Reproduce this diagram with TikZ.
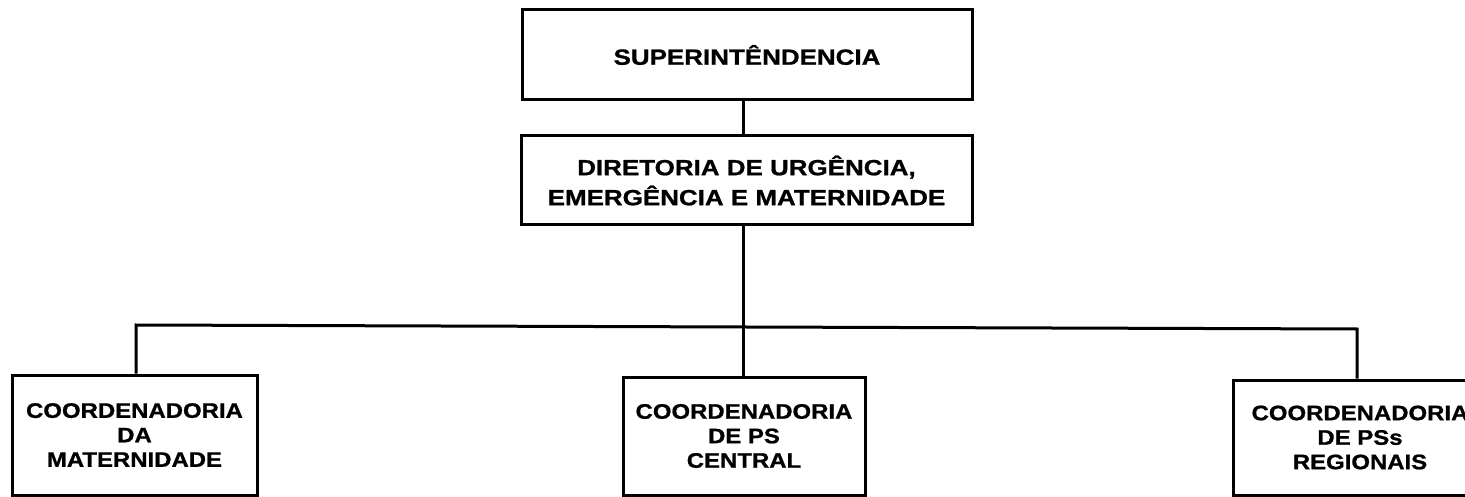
\documentclass[tikz,border=0pt]{standalone}
\usepackage{fontspec}
\newfontfamily\topfont[FakeStretch=1.18,BoldFeatures={FakeBold=1}]{Liberation Sans}
\newfontfamily\botfont[FakeStretch=1.14,BoldFeatures={FakeBold=1}]{Liberation Sans}
\begin{document}
\begin{tikzpicture}[x=1pt,y=-1pt,
  box/.style={draw=black, line width=3pt, fill=white, inner sep=0pt, align=center, text=black},
  topbox/.style={box, font=\topfont\bfseries\fontsize{22}{30}\selectfont},
  botbox/.style={box, font=\botfont\bfseries\fontsize{21}{24.5}\selectfont},
  link/.style={draw=black, line width=3pt}]
\useasboundingbox (0,0) rectangle (1465,497);
\clip (0,0) rectangle (1465,497);
\fill[white] (0,0) rectangle (1465,497);
% connectors
\coordinate (busL) at (136,325);
\coordinate (busC) at (743,327);
\coordinate (busR) at (1357,329);
\node[topbox, minimum width=450, minimum height=90] (sup) at (747,55) {SUPERINTÊNDENCIA};
\node[topbox, minimum width=451, minimum height=89] (dir) at (746.5,180.5) {DIRETORIA DE URGÊNCIA,\\EMERGÊNCIA E MATERNIDADE};
\node[botbox, minimum width=245, minimum height=120] (mat) at (134.5,435) {COORDENADORIA\\DA\\MATERNIDADE};
\node[botbox, minimum width=242, minimum height=118] (cen) at (744,436) {COORDENADORIA\\DE PS\\CENTRAL};
\node[botbox, minimum width=254, minimum height=115] (reg) at (1360,437.5) {COORDENADORIA\\DE PSs\\REGIONAIS};
\draw[link] (sup.south -| busC) -- (dir.north -| busC);
\draw[link] (dir.south -| busC) -- (cen.north -| busC);
\draw[link] (mat.north -| busL) -- (busL) -- (busR) -- (reg.north -| busR);
\end{tikzpicture}
\end{document}
